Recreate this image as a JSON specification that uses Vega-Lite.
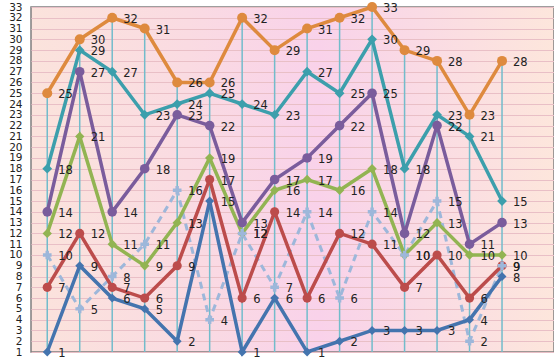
{
  "$schema": "https://vega.github.io/schema/vega-lite/v6.json",
  "width": 523,
  "height": 345,
  "autosize": {"type": "none"},
  "padding": {"left": 31, "top": 7, "right": 0, "bottom": 9},
  "background": "#ffffff",
  "config": {
    "view": {
      "stroke": "#7f7f7f",
      "strokeWidth": 1.5,
      "fill": {
        "gradient": "linear",
        "x1": 0, "y1": 0, "x2": 1, "y2": 0,
        "stops": [
          {"offset": 0, "color": "#fbe3dc"},
          {"offset": 0.3, "color": "#fadbe2"},
          {"offset": 0.55, "color": "#f9d2ea"},
          {"offset": 0.75, "color": "#fadbe4"},
          {"offset": 1, "color": "#fde6dc"}
        ]
      }
    },
    "font": "DejaVu Sans"
  },
  "data": {
    "values": [
      {"s": "A", "i": 1, "v": 25}, {"s": "A", "i": 2, "v": 30}, {"s": "A", "i": 3, "v": 32}, {"s": "A", "i": 4, "v": 31}, {"s": "A", "i": 5, "v": 26},
      {"s": "A", "i": 6, "v": 26}, {"s": "A", "i": 7, "v": 32}, {"s": "A", "i": 8, "v": 29}, {"s": "A", "i": 9, "v": 31}, {"s": "A", "i": 10, "v": 32},
      {"s": "A", "i": 11, "v": 33}, {"s": "A", "i": 12, "v": 29}, {"s": "A", "i": 13, "v": 28}, {"s": "A", "i": 14, "v": 23}, {"s": "A", "i": 15, "v": 28},
      {"s": "B", "i": 1, "v": 18}, {"s": "B", "i": 2, "v": 29}, {"s": "B", "i": 3, "v": 27}, {"s": "B", "i": 4, "v": 23}, {"s": "B", "i": 5, "v": 24},
      {"s": "B", "i": 6, "v": 25}, {"s": "B", "i": 7, "v": 24}, {"s": "B", "i": 8, "v": 23}, {"s": "B", "i": 9, "v": 27}, {"s": "B", "i": 10, "v": 25},
      {"s": "B", "i": 11, "v": 30}, {"s": "B", "i": 12, "v": 18}, {"s": "B", "i": 13, "v": 23}, {"s": "B", "i": 14, "v": 21}, {"s": "B", "i": 15, "v": 15},
      {"s": "C", "i": 1, "v": 14}, {"s": "C", "i": 2, "v": 27}, {"s": "C", "i": 3, "v": 14}, {"s": "C", "i": 4, "v": 18}, {"s": "C", "i": 5, "v": 23},
      {"s": "C", "i": 6, "v": 22}, {"s": "C", "i": 7, "v": 13}, {"s": "C", "i": 8, "v": 17}, {"s": "C", "i": 9, "v": 19}, {"s": "C", "i": 10, "v": 22},
      {"s": "C", "i": 11, "v": 25}, {"s": "C", "i": 12, "v": 12}, {"s": "C", "i": 13, "v": 22}, {"s": "C", "i": 14, "v": 11}, {"s": "C", "i": 15, "v": 13},
      {"s": "D", "i": 1, "v": 12}, {"s": "D", "i": 2, "v": 21}, {"s": "D", "i": 3, "v": 11}, {"s": "D", "i": 4, "v": 9}, {"s": "D", "i": 5, "v": 13},
      {"s": "D", "i": 6, "v": 19}, {"s": "D", "i": 7, "v": 12}, {"s": "D", "i": 8, "v": 16}, {"s": "D", "i": 9, "v": 17}, {"s": "D", "i": 10, "v": 16},
      {"s": "D", "i": 11, "v": 18}, {"s": "D", "i": 12, "v": 10}, {"s": "D", "i": 13, "v": 13}, {"s": "D", "i": 14, "v": 10}, {"s": "D", "i": 15, "v": 10},
      {"s": "E", "i": 1, "v": 7}, {"s": "E", "i": 2, "v": 12}, {"s": "E", "i": 3, "v": 7}, {"s": "E", "i": 4, "v": 6}, {"s": "E", "i": 5, "v": 9},
      {"s": "E", "i": 6, "v": 17}, {"s": "E", "i": 7, "v": 6}, {"s": "E", "i": 8, "v": 14}, {"s": "E", "i": 9, "v": 6}, {"s": "E", "i": 10, "v": 12},
      {"s": "E", "i": 11, "v": 11}, {"s": "E", "i": 12, "v": 7}, {"s": "E", "i": 13, "v": 10}, {"s": "E", "i": 14, "v": 6}, {"s": "E", "i": 15, "v": 9},
      {"s": "F", "i": 1, "v": 1}, {"s": "F", "i": 2, "v": 9}, {"s": "F", "i": 3, "v": 6}, {"s": "F", "i": 4, "v": 5}, {"s": "F", "i": 5, "v": 2},
      {"s": "F", "i": 6, "v": 15}, {"s": "F", "i": 7, "v": 1}, {"s": "F", "i": 8, "v": 6}, {"s": "F", "i": 9, "v": 1}, {"s": "F", "i": 10, "v": 2},
      {"s": "F", "i": 11, "v": 3}, {"s": "F", "i": 12, "v": 3}, {"s": "F", "i": 13, "v": 3}, {"s": "F", "i": 14, "v": 4}, {"s": "F", "i": 15, "v": 8},
      {"s": "G", "i": 1, "v": 10}, {"s": "G", "i": 2, "v": 5}, {"s": "G", "i": 3, "v": 8}, {"s": "G", "i": 4, "v": 11}, {"s": "G", "i": 5, "v": 16},
      {"s": "G", "i": 6, "v": 4}, {"s": "G", "i": 7, "v": 12}, {"s": "G", "i": 8, "v": 7}, {"s": "G", "i": 9, "v": 14}, {"s": "G", "i": 10, "v": 6},
      {"s": "G", "i": 11, "v": 14}, {"s": "G", "i": 12, "v": 10}, {"s": "G", "i": 13, "v": 15}, {"s": "G", "i": 14, "v": 2}, {"s": "G", "i": 15, "v": 9}
    ]
  },
  "encoding": {
    "x": {"field": "i", "type": "quantitative", "scale": {"domain": [0.5, 16.6], "nice": false, "zero": false}, "axis": null},
    "y": {"field": "v", "type": "quantitative", "scale": {"domain": [1, 33], "nice": false, "zero": false},
      "axis": {"values": [1,2,3,4,5,6,7,8,9,10,11,12,13,14,15,16,17,18,19,20,21,22,23,24,25,26,27,28,29,30,31,32,33],
        "domain": false, "ticks": false, "labelPadding": 9, "labelFontSize": 10.5, "labelColor": "#222222",
        "labelOverlap": false, "labelBound": false, "labelFlush": false,
        "gridColor": "#e9bfc6", "gridOpacity": 1, "gridWidth": 1, "title": null, "labelFont": "DejaVu Sans"}}
  },
  "layer": [
    {
      "transform": [{"filter": "datum.s === 'A'"}],
      "mark": {"type": "rule", "color": "#72bccb", "strokeWidth": 1.5},
      "encoding": {"y2": {"datum": 1}}
    },
    {
      "transform": [{"filter": "datum.s === 'G'"}],
      "mark": {"type": "line", "strokeWidth": 3, "strokeDash": [7, 5], "color": "#9db7da"}
    },
    {
      "transform": [{"filter": "datum.s !== 'G'"}],
      "mark": {"type": "line", "strokeWidth": 3.5},
      "encoding": {
        "color": {"field": "s", "type": "nominal", "legend": null,
          "scale": {"domain": ["A","B","C","D","E","F","G"], "range": ["#de8a3e","#3c9fac","#7a5c9c","#92b452","#bc4c4b","#4474ae","#9db7da"]}},
        "detail": {"field": "s"}
      }
    },
    {
      "mark": {"type": "point", "filled": true, "opacity": 1},
      "encoding": {
        "color": {"field": "s", "type": "nominal", "legend": null,
          "scale": {"domain": ["A","B","C","D","E","F","G"], "range": ["#de8a3e","#3c9fac","#7a5c9c","#92b452","#bc4c4b","#4474ae","#9db7da"]}},
        "shape": {"field": "s", "type": "nominal", "legend": null,
          "scale": {"domain": ["A","B","C","D","E","F","G"], "range": ["circle","diamond","circle","diamond","circle","diamond","cross"]}},
        "size": {"field": "s", "type": "nominal", "legend": null,
          "scale": {"domain": ["A","B","C","D","E","F","G"], "range": [100, 75, 100, 85, 100, 65, 35]}}
      }
    },
    {
      "mark": {"type": "text", "align": "left", "baseline": "middle", "dx": 11, "dy": 2, "fontSize": 11.5, "color": "#222222", "font": "DejaVu Sans"},
      "encoding": {"text": {"field": "v", "type": "quantitative"}}
    }
  ]
}
